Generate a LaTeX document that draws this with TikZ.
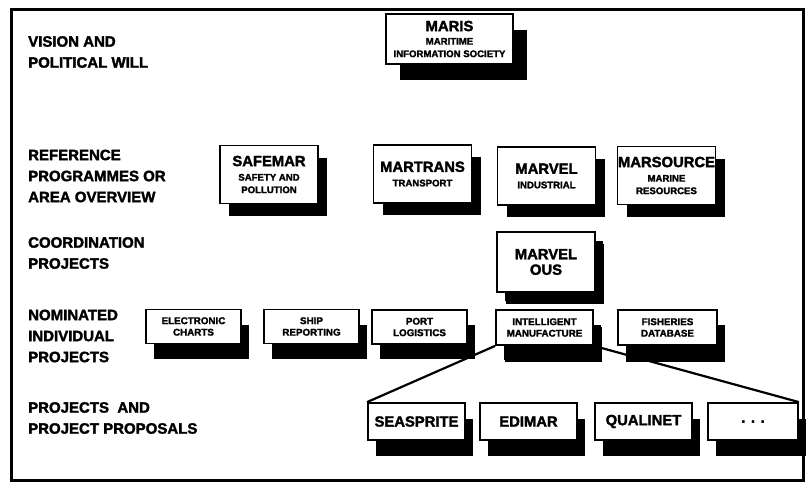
\documentclass[tikz,border=0pt]{standalone}
\usepackage{fontspec}
\setmainfont{Liberation Sans}[BoldFeatures={FakeBold=2}]
\usetikzlibrary{shadows,backgrounds}
\newcommand\BigT{\fontsize{14.8}{15.5}\selectfont}
\newcommand\SubT{\fontsize{9.6}{12.5}\selectfont}
\newcommand\RowT{\fontsize{9.8}{11.5}\selectfont}
\newcommand\LabT{\fontsize{15}{21}\selectfont}
\begin{document}
\begin{tikzpicture}[x=1pt,y=-1pt,
  box/.style={draw=black, line width=1.8pt, fill=white, inner sep=0pt, align=center},
  sh/.style 2 args={drop shadow={shadow xshift=#1pt, shadow yshift=-#2pt, opacity=1, fill=black}},
  topbox/.style={box, font=\SubT\bfseries, minimum width=98pt, minimum height=58pt, sh={9}{12}},
  rowbox/.style={box, font=\RowT\bfseries, minimum width=95pt, minimum height=34pt, sh={8}{15}},
  projbox/.style={box, font=\BigT\bfseries, minimum width=97pt, minimum height=37pt, sh={8}{16}},
  lab/.style={anchor=west, align=left, inner sep=0pt, font=\LabT\bfseries},
  link/.style={line width=2.2pt}]
\useasboundingbox (0,0) rectangle (808,485);
\draw[line width=3pt] (11,9) rectangle (803,480);

% left labels
\node[lab] (l1) at (28,52) {VISION AND\\POLITICAL WILL};
\node[lab] (l2) at (28,176) {REFERENCE\\PROGRAMMES OR\\AREA OVERVIEW};
\node[lab] (l3) at (28,253) {COORDINATION\\PROJECTS};
\node[lab] (l4) at (28,336) {NOMINATED\\INDIVIDUAL\\PROJECTS};
\node[lab] (l5) at (28,418) {PROJECTS\ \ AND\\PROJECT PROPOSALS};

% vision
\node[box, font=\SubT\bfseries, minimum width=127pt, minimum height=50pt, sh={14}{16}] (maris) at (449.5,39)
  {{\BigT MARIS}\\[1pt]MARITIME\\INFORMATION SOCIETY};

% reference programmes
\node[topbox] (safemar) at (269,174.5) {{\BigT SAFEMAR}\\[2pt]SAFETY AND\\POLLUTION};
\node[topbox] (martrans) at (422.5,174) {{\BigT MARTRANS}\\[2pt]TRANSPORT};
\node[topbox] (marvel) at (546.5,176) {{\BigT MARVEL}\\[2pt]INDUSTRIAL};
\node[topbox] (marsource) at (666.5,175.5) {{\BigT MARSOURCE}\\[2pt]MARINE\\RESOURCES};

% coordination
\node[topbox, font=\BigT\bfseries, minimum height=60pt, sh={8}{9}] (marvelous) at (546,262) {MARVEL\\OUS};

% nominated individual projects
\node[rowbox] (charts) at (193.5,326.5) {ELECTRONIC\\CHARTS};
\node[rowbox] (ship) at (311.5,326.5) {SHIP\\REPORTING};
\node[rowbox] (port) at (419.5,327) {PORT\\LOGISTICS};
\node[rowbox, minimum height=35pt, minimum width=97pt, sh={9}{17}] (im) at (544.5,327.5) {INTELLIGENT\\MANUFACTURE};
\node[rowbox, minimum height=35pt, minimum width=99pt, sh={8}{17}] (fish) at (667.5,327.5) {FISHERIES\\DATABASE};

% projects and proposals
\node[projbox] (seasprite) at (416.5,421.5) {SEASPRITE};
\node[projbox] (edimar) at (528.5,421.5) {EDIMAR};
\node[projbox] (qualinet) at (643.5,421.5) {QUALINET};
\node[projbox, minimum width=90pt] (dots) at (753,421.5) {. . .};

\begin{scope}[on background layer]
  \fill[white] (0,0) rectangle (808,485);
  \draw[link] (im.south west) -- (seasprite.north west);
  \draw[link] (im.south east) -- (dots.north east);
\end{scope}
\end{tikzpicture}
\end{document}
